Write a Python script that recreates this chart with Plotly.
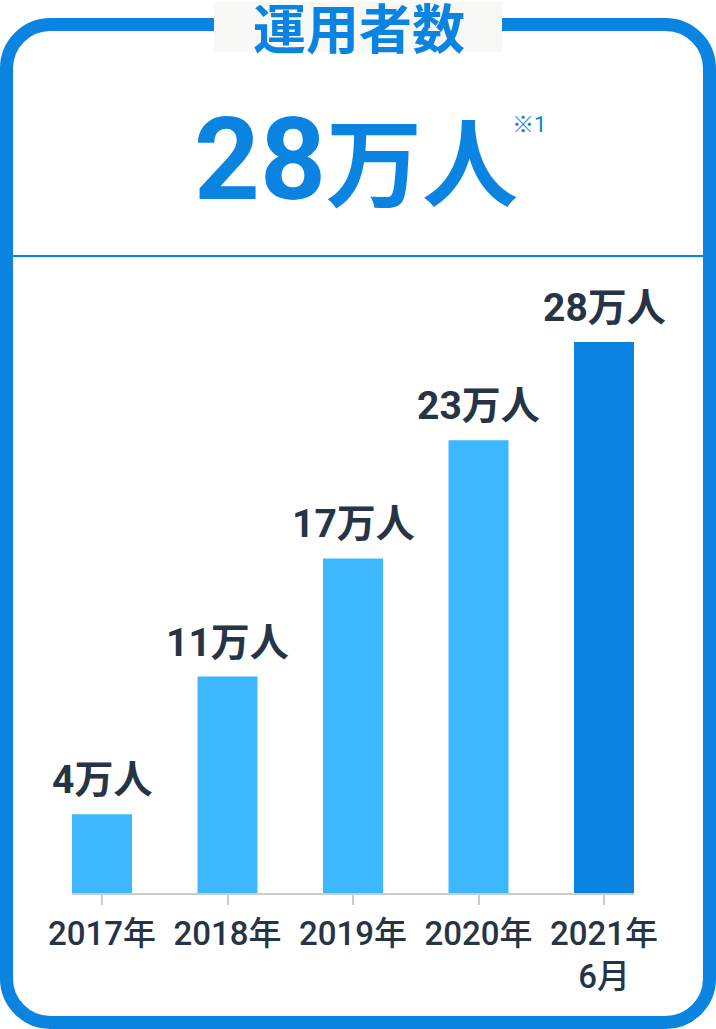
import plotly.graph_objects as go

# ---- data ----
categories = ["2017年", "2018年", "2019年", "2020年", "2021年<br>6月"]
values = [4, 11, 17, 23, 28]
value_labels = ["4万人", "11万人", "17万人", "23万人", "28万人"]
title_text = "運用者数"
headline_number = "28"
headline_unit = "万人"
footnote = "※1"

# ---- style ----
W, H = 716, 1029
PL, PR = 72, 634          # plot area left/right in px
PT, PB = 280, 893         # plot area top/bottom in px
PX_PER_UNIT = 19.68
BLUE = "#0a84e0"
LIGHT = "#3db8ff"
DARK_TEXT = "#273446"
bar_colors = [LIGHT, LIGHT, LIGHT, LIGHT, BLUE]
FONT = "Roboto, 'Noto Sans CJK JP', sans-serif"
CJK = "'Noto Sans CJK JP', sans-serif"


def fx(px):
    return (px - PL) / (PR - PL)


def fy(py):
    return (PB - py) / (PB - PT)


def P(x, y):
    return f"{fx(x):.5f},{fy(y):.5f}"


fig = go.Figure()
fig.add_trace(go.Bar(
    x=categories, y=values, width=0.478,
    marker=dict(color=bar_colors, line=dict(width=0)),
    hoverinfo="skip",
))

# bar value labels
for c, v, t in zip(categories, values, value_labels):
    fig.add_annotation(x=c, y=v, xref="x", yref="y", text=f"<b>{t}</b>",
                       showarrow=False, yanchor="bottom", yshift=9,
                       font=dict(family=FONT, size=39, color=DARK_TEXT))

# rounded border path (centerline)
x0, y0, x1, y1, r = 6.5, 24.5, 709.5, 1022.5, 44
k = 0.5523 * r
path = (
    f"M {P(x0 + r, y0)} L {P(x1 - r, y0)} "
    f"C {P(x1 - r + k, y0)} {P(x1, y0 + r - k)} {P(x1, y0 + r)} "
    f"L {P(x1, y1 - r)} "
    f"C {P(x1, y1 - r + k)} {P(x1 - r + k, y1)} {P(x1 - r, y1)} "
    f"L {P(x0 + r, y1)} "
    f"C {P(x0 + r - k, y1)} {P(x0, y1 - r + k)} {P(x0, y1 - r)} "
    f"L {P(x0, y0 + r)} "
    f"C {P(x0, y0 + r - k)} {P(x0 + r - k, y0)} {P(x0 + r, y0)} Z"
)
fig.add_shape(type="path", xref="paper", yref="paper", path=path,
              line=dict(color=BLUE, width=13), fillcolor="rgba(0,0,0,0)",
              layer="above")
# title background
fig.add_shape(type="rect", xref="paper", yref="paper",
              x0=fx(214), x1=fx(502), y0=fy(52), y1=fy(2),
              line=dict(width=0), fillcolor="#f8f8f6", layer="above")
# separator line
fig.add_shape(type="line", xref="paper", yref="paper",
              x0=fx(12), x1=fx(703), y0=fy(256), y1=fy(256),
              line=dict(color=BLUE, width=2), layer="above")

# title
fig.add_annotation(xref="paper", yref="paper", x=fx(359), y=fy(26),
                   text=f"<b>{title_text}</b>", showarrow=False,
                   xanchor="center", yanchor="middle",
                   font=dict(family=CJK, size=53, color=BLUE))
# headline
fig.add_annotation(xref="paper", yref="paper", x=fx(356), y=fy(160),
                   text=f"<b>{headline_number}<span style='font-size:96px'>{headline_unit}</span></b>",
                   showarrow=False, xanchor="center", yanchor="middle",
                   font=dict(family=FONT, size=115, color=BLUE))
fig.add_annotation(xref="paper", yref="paper", x=fx(529), y=fy(124),
                   text=footnote, showarrow=False,
                   xanchor="center", yanchor="middle",
                   font=dict(family=FONT, size=22, color=BLUE))

fig.update_layout(
    width=W, height=H,
    margin=dict(l=PL, r=W - PR, t=PT, b=H - PB, pad=0),
    paper_bgcolor="white", plot_bgcolor="white",
    showlegend=False,
    xaxis=dict(type="category", range=[-0.239, 4.239],
               showline=True, linecolor="#cccccc", linewidth=2,
               ticks="outside", ticklen=10, tickwidth=2, tickcolor="#cccccc",
               showgrid=False, zeroline=False,
               tickfont=dict(family=FONT, size=33, color=DARK_TEXT, weight=500)),
    yaxis=dict(range=[0, (PB - PT) / PX_PER_UNIT], visible=False,
               showgrid=False, zeroline=False),
)

fig.write_html("out.html", config={"displayModeBar": False},
               post_script="document.body.style.margin='0';document.body.style.overflow='hidden';")
